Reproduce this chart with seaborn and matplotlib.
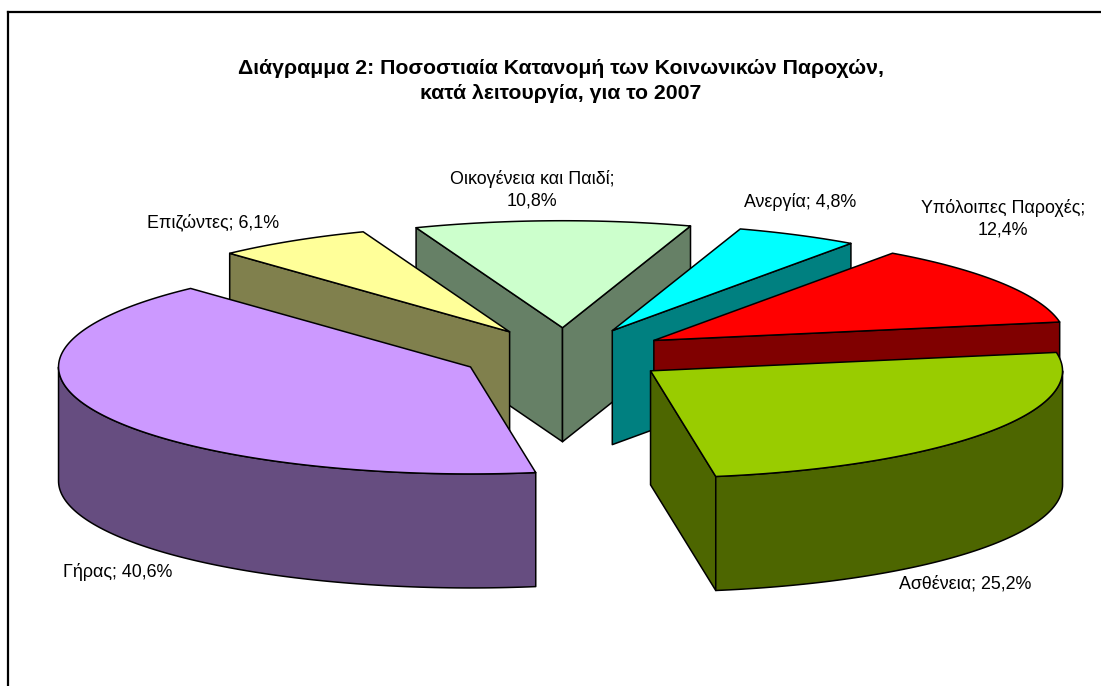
import numpy as np
import matplotlib
matplotlib.use("Agg")
import matplotlib.pyplot as plt
import seaborn as sns

# Slices in clockwise order, starting from the top
names = ["Ανεργία", "Υπόλοιπες Παροχές", "Ασθένεια", "Γήρας", "Επιζώντες", "Οικογένεια και Παιδί"]
values = [4.8, 12.4, 25.2, 40.6, 6.1, 10.8]
colors = ["#00FFFF", "#FF0000", "#99CC00", "#CC99FF", "#FFFF99", "#CCFFCC"]
title = "Διάγραμμα 2: Ποσοστιαία Κατανομή των Κοινωνικών Παροχών,\nκατά λειτουργία, για το 2007"

# Label text, wrapped like the original
label_breaks = {"Υπόλοιπες Παροχές": "\n", "Οικογένεια και Παιδί": "\n"}
label_pos = [(800, 202), (1003, 219), (965, 584), (118, 572), (213, 222), (532, 190)]

# Pie geometry in pixels
cx, cy = 565, 355
rx, ry = 412, 107
depth = 114
explode = 0.255
start = 71.9

sns.set_theme(style="white")
plt.rcParams["font.family"] = ["Liberation Sans", "DejaVu Sans"]
dark = [tuple(c * 0.5 for c in col) for col in sns.color_palette(colors)]

fig = plt.figure(figsize=(11.01, 6.86), dpi=100)
ax = fig.add_axes([7.5 / 1101, 0, 1 - 7.5 / 1101, 1 - 11.5 / 686])
ax.set_xlim(7.5, 1101)
ax.set_ylim(686, 11.5)
ax.set_xticks([])
ax.set_yticks([])
sns.despine(ax=ax, top=False, right=True, bottom=True)
for side in ["left", "top"]:
    ax.spines[side].set_color("black")
    ax.spines[side].set_linewidth(1.6)

sweeps = np.array(values) / sum(values) * 360
ends = start - np.cumsum(sweeps)
begins = ends + sweeps
mids = (begins + ends) / 2


def rim_xy(x0, y0, angle):
    t = np.radians(angle)
    return x0 + rx * np.cos(t), y0 - ry * np.sin(t)


def face(xs, ys, color, z):
    ax.fill(xs, ys, facecolor=color, edgecolor="black", linewidth=1.1, joinstyle="round", zorder=z)


# Paint from the back of the pie to the front
for z, i in enumerate(np.argsort(-np.sin(np.radians(mids)))):
    x0 = cx + explode * rx * np.cos(np.radians(mids[i]))
    y0 = cy - explode * ry * np.sin(np.radians(mids[i]))
    z = z * 3 + 1

    # Flat side walls, only where they face the viewer
    for edge, other in [(begins[i], mids[i]), (ends[i], mids[i])]:
        px, py = rim_xy(x0, y0, edge)
        qx, qy = rim_xy(x0, y0, other)
        slice_y = y0 + (py - y0) * (qx - x0) / (px - x0)
        if qy < slice_y:
            face([x0, px, px, x0], [y0, py, py + depth, y0 + depth], dark[i], z)

    # Outer rim, front half of the ellipse only
    a = np.arange(np.ceil(ends[i]), np.floor(begins[i]) + 1)
    a = np.concatenate([[ends[i]], a, [begins[i]]])
    front = a[np.sin(np.radians(a)) <= 0]
    if ends[i] < 0 and begins[i] > 0:
        front = np.append(front, 0)
    if ends[i] < -180 and begins[i] > -180 or ends[i] < 180 < begins[i]:
        front = np.append(front, 180 if begins[i] > 180 else -180)
    front = np.sort(front)
    if len(front) > 1:
        fx, fy = rim_xy(x0, y0, front)
        face(np.r_[fx, fx[::-1]], np.r_[fy, fy[::-1] + depth], dark[i], z + 1)

    # Top of the slice
    tx, ty = rim_xy(x0, y0, a)
    face(np.r_[x0, tx], np.r_[y0, ty], colors[i], z + 2)

for name, value, (lx, ly) in zip(names, values, label_pos):
    sep = label_breaks.get(name, " ")
    text = f"{name};{sep}{value:.1f}%".replace(".", ",")
    ax.text(lx, ly, text, ha="center", va="center", fontsize=12.9, color="black", linespacing=1.36, zorder=50)

ax.text(561, 81, title, ha="center", va="center", fontsize=15.35, fontweight="bold", color="black",
        linespacing=1.4, zorder=50)

fig.savefig("out.png", dpi=100)
